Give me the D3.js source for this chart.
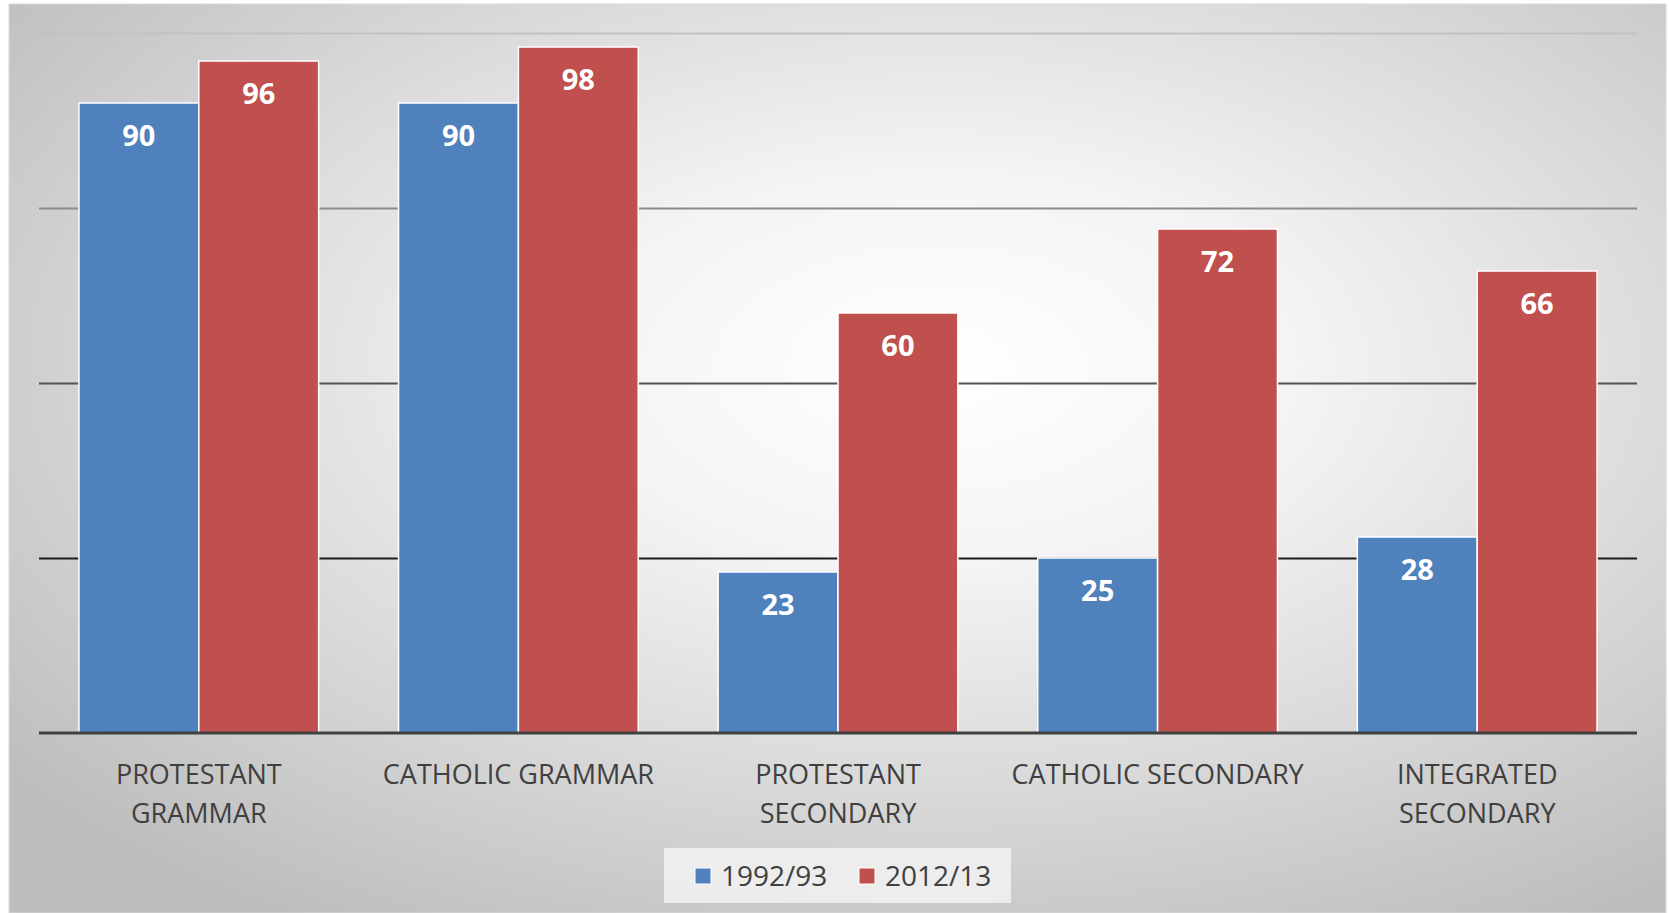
<!DOCTYPE html>
<meta charset="utf-8">
<style>
body { margin: 0; background: #fff; }
text { font-family: "Open Sans", sans-serif; }
.cat { font-size: 27px; fill: #404040; }
.val { font-size: 29px; font-weight: bold; fill: #fff; }
.leg { font-size: 28px; fill: #404040; }
</style>
<svg width="1669" height="913"></svg>
<script src="https://d3js.org/d3.v7.min.js"></script>
<script>

// data
var categories = ["PROTESTANT GRAMMAR", "CATHOLIC GRAMMAR", "PROTESTANT SECONDARY", "CATHOLIC SECONDARY", "INTEGRATED SECONDARY"];
var catLines = [["PROTESTANT", "GRAMMAR"], ["CATHOLIC GRAMMAR"], ["PROTESTANT", "SECONDARY"], ["CATHOLIC SECONDARY"], ["INTEGRATED", "SECONDARY"]];
var series = ["1992/93", "2012/13"];
var values1992 = [90, 90, 23, 25, 28];
var values2012 = [96, 98, 60, 72, 66];
var yTicks = [25, 50, 75, 100];
var colors = ["#4f81bd", "#c0504d"];

var svg = d3.select("svg"),
    plotL = 39, plotR = 1637, plotT = 33, plotB = 733;

var defs = svg.append("defs");

// chart area background: light centre, grey edges
var bg = defs.append("radialGradient").attr("id", "bg")
    .attr("cx", "56%").attr("cy", "40%").attr("r", "72%");
bg.append("stop").attr("offset", "0%").attr("stop-color", "#ffffff");
bg.append("stop").attr("offset", "30%").attr("stop-color", "#f4f4f4");
bg.append("stop").attr("offset", "100%").attr("stop-color", "#bdbdbd");

svg.append("rect")
    .attr("x", 9).attr("y", 4).attr("width", 1657).attr("height", 909)
    .attr("fill", "url(#bg)")
    .attr("stroke", "#d9d9d9").attr("stroke-width", 1);

var x0 = d3.scaleBand().domain(categories).range([plotL, plotR])
    .paddingInner(0.25).paddingOuter(0.125);
var x1 = d3.scaleBand().domain(series).range([0, x0.bandwidth()]);
var y = d3.scaleLinear().domain([0, 100]).range([plotB, plotT]);

// gridlines get darker lower down
var gridShade = d3.scaleLinear().domain([100, 25]).range(["#c2c2c2", "#1c1c1c"]).clamp(true);
var grid = svg.append("g")
    .attr("transform", "translate(" + plotL + ",0)")
    .call(d3.axisLeft(y).tickValues(yTicks).tickSize(-(plotR - plotL)).tickFormat(""));
grid.select(".domain").remove();
grid.selectAll(".tick line")
    .attr("stroke", function(d) { return gridShade(d); })
    .attr("stroke-width", 2);

var rows = categories.map(function(c, i) {
  return { cat: c, vals: [values1992[i], values2012[i]] };
});

var groups = svg.append("g").selectAll("g")
  .data(rows)
  .join("g")
    .attr("transform", function(d) { return "translate(" + x0(d.cat) + ",0)"; });

var bars = groups.selectAll("g")
  .data(function(d) { return d.vals.map(function(v, j) { return { s: series[j], v: v, j: j }; }); })
  .join("g");

bars.append("rect")
    .attr("x", function(d) { return x1(d.s); })
    .attr("y", function(d) { return y(d.v); })
    .attr("width", x1.bandwidth())
    .attr("height", function(d) { return y(0) - y(d.v); })
    .attr("fill", function(d) { return colors[d.j]; })
    .attr("stroke", "#fff")
    .attr("stroke-width", 1.5);

bars.append("text")
    .attr("class", "val")
    .attr("text-anchor", "middle")
    .attr("x", function(d) { return x1(d.s) + x1.bandwidth() / 2; })
    .attr("y", function(d) { return y(d.v) + 43; })
    .text(function(d) { return d.v; });

// baseline
svg.append("line")
    .attr("x1", plotL).attr("x2", plotR)
    .attr("y1", y(0)).attr("y2", y(0))
    .attr("stroke", "#404040").attr("stroke-width", 3);

// category labels
var xa = svg.append("g")
    .attr("transform", "translate(0," + plotB + ")")
    .call(d3.axisBottom(x0).tickSize(0).tickFormat(""));
xa.select(".domain").remove();
xa.selectAll(".tick").each(function(d, i) {
  var t = d3.select(this).append("text")
      .attr("class", "cat")
      .attr("text-anchor", "middle")
      .attr("y", 51);
  catLines[i].forEach(function(line, k) {
    t.append("tspan").attr("x", 0).attr("dy", k ? 39 : 0).text(line);
  });
});

// legend
var leg = svg.append("g");
leg.append("rect")
    .attr("x", 664).attr("y", 848).attr("width", 347).attr("height", 55)
    .attr("fill", "#f2f2f2").attr("opacity", 0.85);
var legX = [695, 859];
series.forEach(function(s, i) {
  leg.append("rect")
      .attr("x", legX[i]).attr("y", 868).attr("width", 16).attr("height", 16)
      .attr("fill", colors[i]).attr("stroke", "#fff").attr("stroke-width", 1);
  leg.append("text")
      .attr("class", "leg")
      .attr("x", legX[i] + 26).attr("y", 886)
      .text(s);
});

</script>
